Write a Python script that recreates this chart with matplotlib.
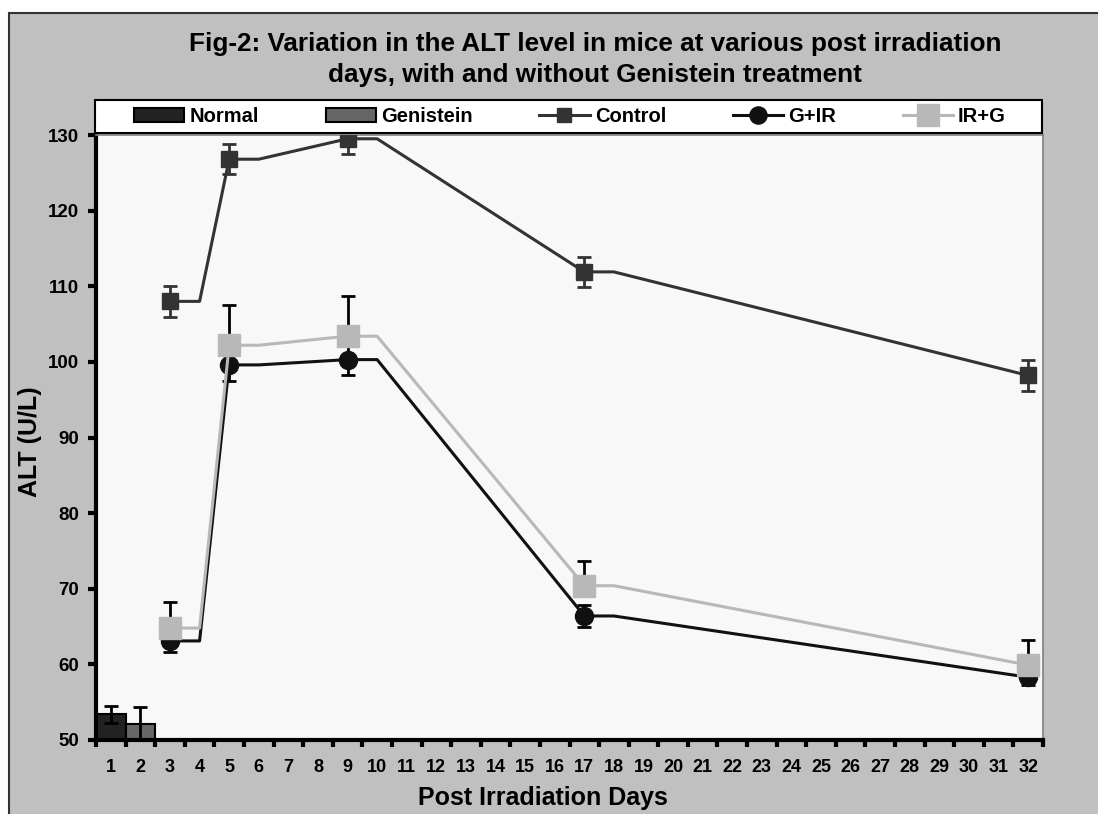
import matplotlib.pyplot as plt
from matplotlib.patches import Rectangle

plt.rcParams['font.family'] = ['Liberation Sans', 'DejaVu Sans']
plt.rcParams['font.weight'] = 'bold'

# categories on the x axis
days = list(range(1, 33))

# bars (day 1 and 2)
normal_day = 1
normal_val = 53.4
normal_err = 1.1
genistein_day = 2
genistein_val = 52.1
genistein_err = 2.2

# line series, measured days
meas_days = [3, 5, 9, 17, 32]
control = [108.0, 126.8, 129.5, 111.9, 98.2]
control_err = [2.0, 2.0, 2.0, 2.0, 2.1]
g_ir = [63.1, 99.6, 100.3, 66.4, 58.3]
g_ir_err = [1.4, 2.1, 2.0, 1.4, 1.0]
ir_g = [64.8, 102.2, 103.4, 70.4, 59.9]
ir_g_err = [3.4, 5.3, 5.3, 3.3, 3.3]


def step_path(xs, ys):
    # each value is held flat for one category before moving on
    px, py = [], []
    for i in range(len(xs)):
        px.append(xs[i])
        py.append(ys[i])
        if i < len(xs) - 1:
            px.append(xs[i] + 1)
            py.append(ys[i])
    return px, py


W, H = 1098, 814
fig = plt.figure(figsize=(10.98, 8.14), dpi=100)
fig.patch.set_facecolor('white')
bg = Rectangle((9 / W, -0.05), 1.1, 1 - 13 / H + 0.05,
               transform=fig.transFigure, facecolor='#c0c0c0',
               edgecolor='#333333', linewidth=1.5, zorder=-10)
fig.patches.append(bg)
# legend box
legbox = Rectangle((95 / W, 1 - 133 / H), 947 / W, 33 / H,
                   transform=fig.transFigure, facecolor='white',
                   edgecolor='black', linewidth=1.5, zorder=-5)
fig.patches.append(legbox)

ax = fig.add_axes([96 / W, 1 - 740 / H, 947 / W, 605 / H])
ax.set_zorder(1)
ax.set_facecolor('#f8f8f8')

b1 = ax.bar(normal_day, normal_val - 50, bottom=50, width=1.0, color='#222222',
            edgecolor='black', linewidth=1.5, label='Normal', zorder=2)
b2 = ax.bar(genistein_day, genistein_val - 50, bottom=50, width=1.0, color='#666666',
            edgecolor='black', linewidth=1.5, label='Genistein', zorder=2)
ax.errorbar([normal_day, genistein_day], [normal_val, genistein_val],
            yerr=[normal_err, genistein_err], fmt='none', ecolor='black',
            elinewidth=2, capsize=5, capthick=2, zorder=3)

series = [
    ('Control', control, control_err, '#333333', 's', 11, '#333333', 'both'),
    ('G+IR', g_ir, g_ir_err, '#111111', 'o', 13, 'black', 'both'),
    ('IR+G', ir_g, ir_g_err, '#b8b8b8', 's', 16, 'black', 'upper'),
]
handles = [b1, b2]
z = 4
for name, vals, err, col, mk, ms, ecol, side in series:
    if side == 'upper':
        yerr = [[0] * len(err), err]
    else:
        yerr = err
    ax.errorbar(meas_days, vals, yerr=yerr, fmt='none', ecolor=ecol,
                elinewidth=2, capsize=5, capthick=2, zorder=z)
    px, py = step_path(meas_days, vals)
    ln, = ax.plot(px, py, color=col, linewidth=2.2, marker=mk, markersize=ms,
                  markevery=list(range(0, len(px), 2)), markerfacecolor=col,
                  markeredgecolor=col, label=name, zorder=z + 1)
    handles.append(ln)
    z += 2

ax.set_xlim(0.5, 32.5)
ax.set_ylim(50, 130)
ax.set_xticks(days)
ax.set_xticklabels([str(d) for d in days])
ax.set_xticks([d + 0.5 for d in range(0, 33)], minor=True)
ax.tick_params(axis='x', which='major', length=0, pad=14, labelsize=13)
ax.tick_params(axis='x', which='minor', length=5, width=3, direction='out')
ax.set_yticks(range(50, 131, 10))
ax.tick_params(axis='y', length=6, width=3, direction='out', pad=6, labelsize=13.5)
for lab in ax.get_xticklabels() + ax.get_yticklabels():
    lab.set_fontweight('bold')

ax.spines['left'].set_linewidth(3)
ax.spines['bottom'].set_linewidth(3)
ax.spines['top'].set_color('#808080')
ax.spines['right'].set_color('#808080')
ax.spines['top'].set_linewidth(1.2)
ax.spines['right'].set_linewidth(1.2)

leg = ax.legend(handles=handles, labels=['Normal', 'Genistein', 'Control', 'G+IR', 'IR+G'],
                ncol=5, mode='expand', loc='center left',
                bbox_to_anchor=(130 / W, 1 - 133 / H, 880 / W, 33 / H),
                bbox_transform=fig.transFigure, borderaxespad=0, frameon=False,
                prop={'weight': 'bold', 'size': 14.5}, handlelength=2.5,
                handletextpad=0.25, borderpad=0.2, markerscale=0.95)

fig.text(595 / W, 1 - 51 / H, 'Fig-2: Variation in the ALT level in mice at various post irradiation',
         ha='center', va='baseline', fontsize=18.8, fontweight='bold')
fig.text(595 / W, 1 - 82 / H, 'days, with and without Genistein treatment',
         ha='center', va='baseline', fontsize=18.8, fontweight='bold')
fig.text(543 / W, 1 - 798 / H, 'Post Irradiation Days', ha='center', va='center',
         fontsize=18, fontweight='bold')
fig.text(30 / W, 1 - 442 / H, 'ALT (U/L)', ha='center', va='center', rotation=90,
         fontsize=18, fontweight='bold')

fig.savefig('out.png', dpi=100)
